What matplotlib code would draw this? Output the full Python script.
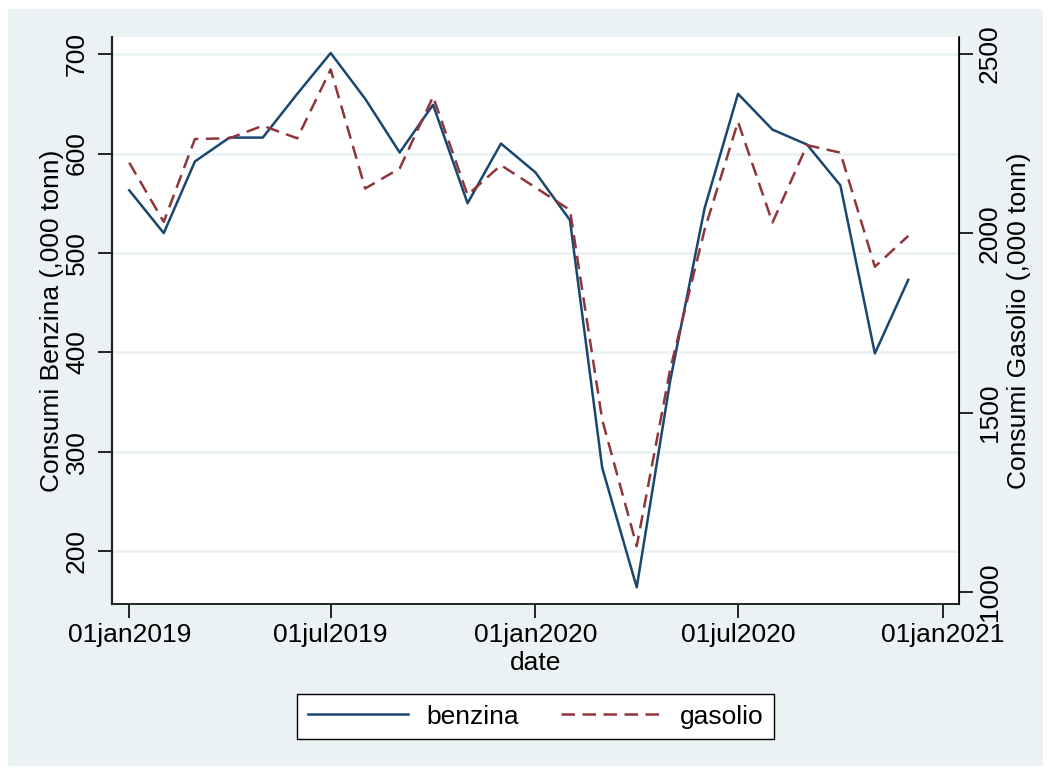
import numpy as np
import pandas as pd
import matplotlib
matplotlib.use("Agg")
import matplotlib.pyplot as plt
import matplotlib.dates as mdates
from matplotlib.patches import Rectangle

plt.rcParams["font.family"] = ["Liberation Sans", "DejaVu Sans"]

# monthly fuel consumption, thousand tonnes
months = pd.date_range("2019-01-01", "2020-12-01", freq="MS")
benzina = [563, 520, 592, 616, 616, 660, 701, 655, 601, 649, 550, 610,
           581, 533, 284, 164, 371, 545, 660, 624, 609, 568, 399, 473]
gasolio = [2197, 2032, 2263, 2265, 2300, 2265, 2457, 2125, 2181, 2381, 2107, 2190,
           2128, 2065, 1480, 1128, 1620, 2010, 2311, 2030, 2246, 2225, 1907, 1993]

x_ticks = pd.to_datetime(["2019-01-01", "2019-07-01", "2020-01-01",
                          "2020-07-01", "2021-01-01"])
left_ticks = [200, 300, 400, 500, 600, 700]
right_ticks = [1000, 1500, 2000, 2500]

bg = "#eaf2f3"
navy = "#1a476f"
maroon = "#90353b"
fs = 19

fig = plt.figure(figsize=(10.49, 7.73), dpi=100)
fig.patch.set_facecolor("white")
# light graph region inside a thin white margin
fig.patches.append(Rectangle((8 / 1049, 1 - 766 / 773), 1035 / 1049, 757 / 773,
                             transform=fig.transFigure, facecolor=bg,
                             edgecolor="none", zorder=-10))

ax = fig.add_axes([112 / 1049, 1 - 604 / 773, 847 / 1049, 567 / 773])
ax.set_facecolor("white")
ax2 = ax.twinx()

l1, = ax.plot(months, benzina, color=navy, lw=1.8, label="benzina")
l2, = ax2.plot(months, gasolio, color=maroon, lw=1.8, linestyle=(0, (5.4, 3.0)),
               label="gasolio")

x0 = pd.Timestamp("2019-01-01") - pd.Timedelta(days=15.5)
x1 = pd.Timestamp("2021-01-01") + pd.Timedelta(days=14.6)
ax.set_xlim(x0, x1)
ax.set_ylim(147.2, 717.1)
ax2.set_ylim(966.7, 2547.4)

ax.set_xticks(x_ticks)
ax.set_xticklabels([d.strftime("%d%b%Y").lower() for d in x_ticks])
ax.set_yticks(left_ticks)
ax.set_yticklabels([str(v) for v in left_ticks], rotation=90, va="center")
ax2.set_yticks(right_ticks)
ax2.set_yticklabels([str(v) for v in right_ticks], rotation=90, va="center")

ax.grid(axis="y", color=bg, lw=2)
ax.set_axisbelow(True)

ax.tick_params(axis="x", length=10, width=1.2, labelsize=fs, pad=4, colors="black")
ax.tick_params(axis="y", length=10, width=1.2, labelsize=fs, pad=6.5, colors="black")
ax2.tick_params(axis="y", length=10, width=1.2, labelsize=fs, pad=3.5, colors="black")

for a in (ax, ax2):
    a.spines["top"].set_visible(False)
ax.spines["left"].set_linewidth(1.6)
ax.spines["left"].set_color("#222222")
ax.spines["bottom"].set_linewidth(1.4)
ax.spines["bottom"].set_color("#222222")
ax2.spines["right"].set_linewidth(1.2)
ax2.spines["left"].set_visible(False)
ax2.spines["bottom"].set_visible(False)

ax.set_xlabel("date", fontsize=fs, labelpad=2.5)
ax.set_ylabel("Consumi Benzina (,000 tonn)", fontsize=fs, labelpad=1)
ax2.set_ylabel("Consumi Gasolio (,000 tonn)", fontsize=fs, labelpad=4)

leg = fig.legend(handles=[l1, l2], loc="center", ncol=2,
                 bbox_to_anchor=(535.5 / 1049, 1 - 716.7 / 773),
                 fontsize=fs, frameon=True, fancybox=False, handlelength=3.8,
                 columnspacing=1.6, handletextpad=0.7, borderpad=0.4)
leg.get_frame().set_edgecolor("black")
leg.get_frame().set_linewidth(1.0)
leg.get_frame().set_facecolor("white")
leg.get_frame().set_alpha(1)

fig.savefig("out.png", dpi=100, facecolor=fig.get_facecolor())
